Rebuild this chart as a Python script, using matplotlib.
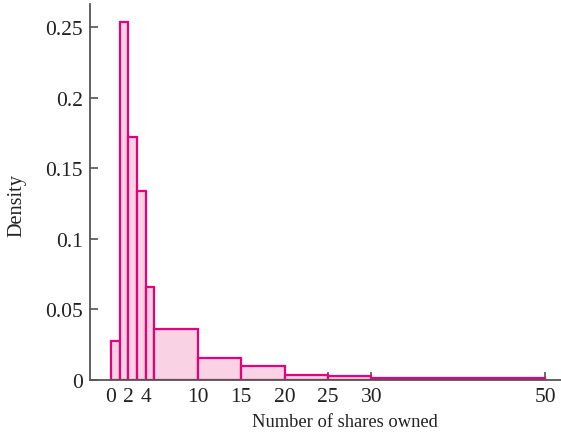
import matplotlib.pyplot as plt
import numpy as np

plt.rcParams['font.family'] = ['Liberation Serif', 'DejaVu Serif']

# bin edges and densities
binEdges = [0, 1, 2, 3, 4, 5, 10, 15, 20, 25, 30, 50]
densities = [0.0276, 0.2533, 0.1722, 0.1335, 0.0659, 0.0357, 0.0154, 0.0098, 0.0031, 0.0026, 0.0010]
xTicks = [0, 2, 4, 10, 15, 20, 25, 30, 50]
yTicks = [0, 0.05, 0.1, 0.15, 0.2, 0.25]
yTickLabels = ["0", "0.05", "0.1", "0.15", "0.2", "0.25"]

fig = plt.figure(figsize=(5.61, 4.35), dpi=100)
ax = fig.add_axes([0.1604, 0.1248, 0.8396, 0.8637])

lefts = np.array(binEdges[:-1])
widths = np.diff(binEdges)
ax.bar(lefts, densities, width=widths, align="edge", color="#f9d3e3",
       edgecolor="#e6007e", linewidth=1.6, zorder=2)

ax.set_xlim(-2.42, 51.84)
ax.set_ylim(0, 0.2663)
ax.set_xticks(xTicks)
ax.set_yticks(yTicks)
ax.set_yticklabels(yTickLabels)

for side in ["top", "right"]:
    ax.spines[side].set_visible(False)
for side in ["left", "bottom"]:
    ax.spines[side].set_color("#555555")
    ax.spines[side].set_linewidth(1.3)
    ax.spines[side].set_zorder(3)

ax.tick_params(direction="in", length=6, width=1.1, color="#444444",
               labelsize=15.5, labelcolor="#222222", pad=5)

ax.set_xlabel("Number of shares owned", fontsize=13.3, color="#222222")
ax.set_ylabel("Density", fontsize=14.6, color="#222222")
ax.xaxis.set_label_coords(0.541, -0.088)
ax.yaxis.set_label_coords(-0.135, 0.465)

fig.savefig("out.png", dpi=100)
